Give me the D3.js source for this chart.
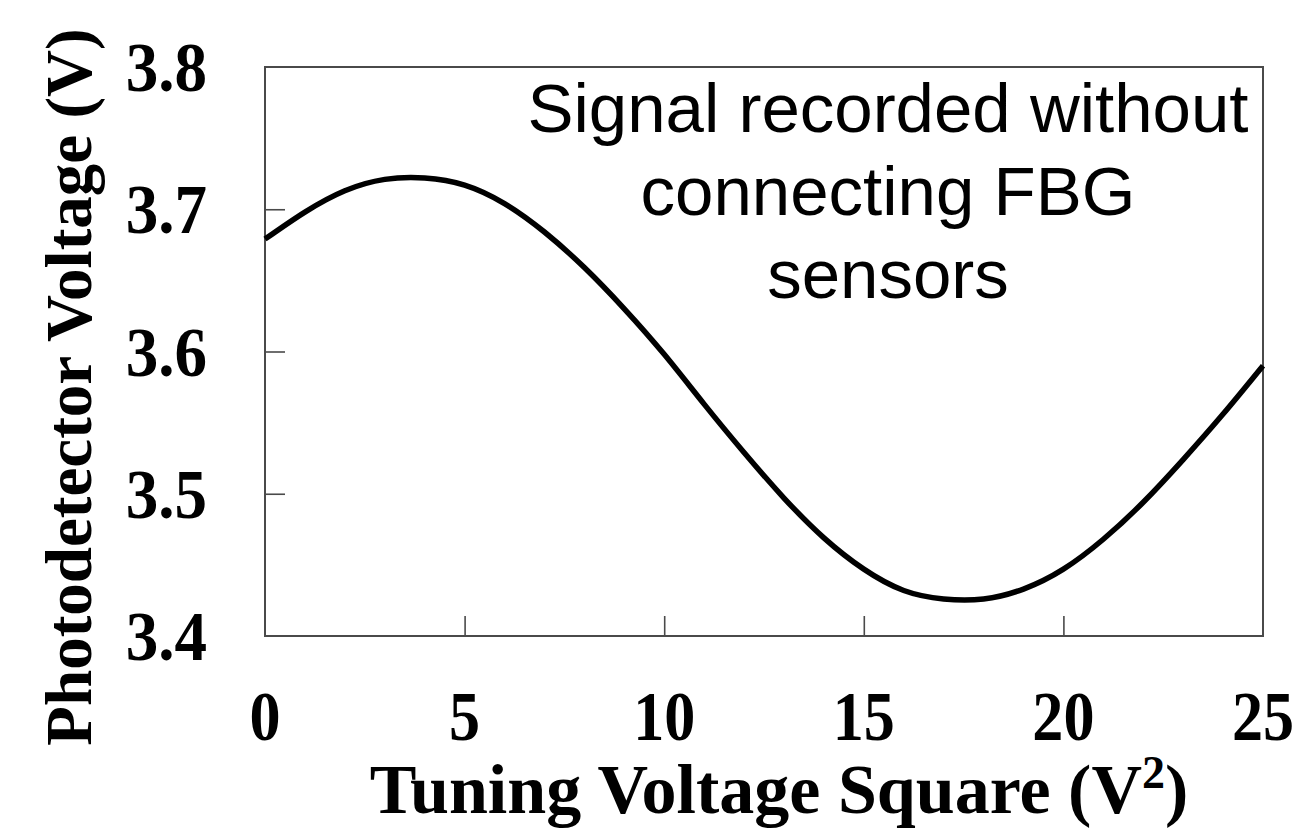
<!DOCTYPE html>
<html>
<head>
<meta charset="utf-8">
<script src="https://cdn.jsdelivr.net/npm/d3@7"></script>
<style>
  html, body { margin: 0; padding: 0; background: #fff; }
  svg { display: block; }
</style>
</head>
<body>
<svg id="chart" width="1305" height="829"></svg>
<script>
// Tuning voltage square (V^2) sampled along the sweep
const tuning = [0, 1, 2, 3, 4, 5, 6, 7, 8, 9, 10, 11, 12, 13, 14, 15, 16, 17, 18, 19, 20, 21, 22, 23, 24, 25];
// Photodetector voltage (V) at each tuning step
const voltage = [3.679, 3.698, 3.713, 3.721, 3.722, 3.717, 3.704, 3.684, 3.659, 3.630, 3.598, 3.563, 3.529, 3.497, 3.469, 3.447, 3.432, 3.426, 3.426, 3.433, 3.447, 3.468, 3.494, 3.524, 3.556, 3.590];

const xTicks = [0, 5, 10, 15, 20, 25];
const yTicks = [3.4, 3.5, 3.6, 3.7, 3.8];
const xTitle = "Tuning Voltage Square (V";
const yTitle = "Photodetector Voltage (V)";
const noteLines = ["Signal recorded without", "connecting FBG", "sensors"];

const svg = d3.select("#chart");
const plot = { left: 265, right: 1263, top: 67, bottom: 636 };

const x = d3.scaleLinear().domain([0, 25]).range([plot.left, plot.right]);
const y = d3.scaleLinear().domain([3.4, 3.8]).range([plot.bottom, plot.top]);

const serif = "'Liberation Serif', 'Times New Roman', serif";
const frameColor = "#4a4a4a";

// inward ticks on bottom and left
const xAxis = d3.axisBottom(x).tickValues(xTicks.slice(1, -1)).tickSize(-20).tickFormat("");
const yAxis = d3.axisLeft(y).tickValues(yTicks.slice(1, -1)).tickSize(-20).tickFormat("");

const gx = svg.append("g").attr("transform", `translate(0,${plot.bottom})`).call(xAxis);
const gy = svg.append("g").attr("transform", `translate(${plot.left},0)`).call(yAxis);
[gx, gy].forEach(g => {
  g.select(".domain").remove();
  g.selectAll(".tick line").attr("stroke", frameColor).attr("stroke-width", 1.6);
});

// frame
svg.append("rect")
  .attr("x", plot.left).attr("y", plot.top)
  .attr("width", plot.right - plot.left).attr("height", plot.bottom - plot.top)
  .attr("fill", "none").attr("stroke", frameColor).attr("stroke-width", 2);

// tick labels
svg.append("g").selectAll("text").data(xTicks).join("text")
  .attr("transform", d => `translate(${x(d)},740) scale(0.9,1)`)
  .attr("text-anchor", "middle")
  .attr("font-family", serif).attr("font-weight", "bold").attr("font-size", 69)
  .attr("fill", "#000")
  .text(d => d);

svg.append("g").selectAll("text").data(yTicks).join("text")
  .attr("transform", d => `translate(207,${y(d) + 24}) scale(0.93,1)`)
  .attr("text-anchor", "end")
  .attr("font-family", serif).attr("font-weight", "bold").attr("font-size", 70)
  .attr("fill", "#000")
  .text(d => d.toFixed(1));

// axis titles
const xt = svg.append("text")
  .attr("transform", "translate(779,813)")
  .attr("text-anchor", "middle")
  .attr("font-family", serif).attr("font-weight", "bold").attr("font-size", 70)
  .attr("fill", "#000");
xt.append("tspan").text(xTitle);
xt.append("tspan").attr("font-size", 46).attr("dy", -25).text("2");
xt.append("tspan").attr("dy", 25).text(")");

svg.append("text")
  .attr("transform", "translate(91,387) rotate(-90)")
  .attr("text-anchor", "middle")
  .attr("font-family", serif).attr("font-weight", "bold").attr("font-size", 65)
  .attr("fill", "#000")
  .text(yTitle);

// annotation
svg.append("g").selectAll("text").data(noteLines).join("text")
  .attr("x", 888).attr("y", (d, i) => 132 + i * 83)
  .attr("text-anchor", "middle")
  .attr("font-family", "'Liberation Sans', Arial, sans-serif").attr("font-size", 69)
  .attr("fill", "#000")
  .text(d => d);

// signal trace
const data = tuning.map((t, i) => [t, voltage[i]]);
svg.append("path")
  .datum(data)
  .attr("fill", "none").attr("stroke", "#000").attr("stroke-width", 5.5)
  .attr("stroke-linejoin", "round")
  .attr("d", d3.line().x(d => x(d[0])).y(d => y(d[1])).curve(d3.curveNatural));
</script>
</body>
</html>
